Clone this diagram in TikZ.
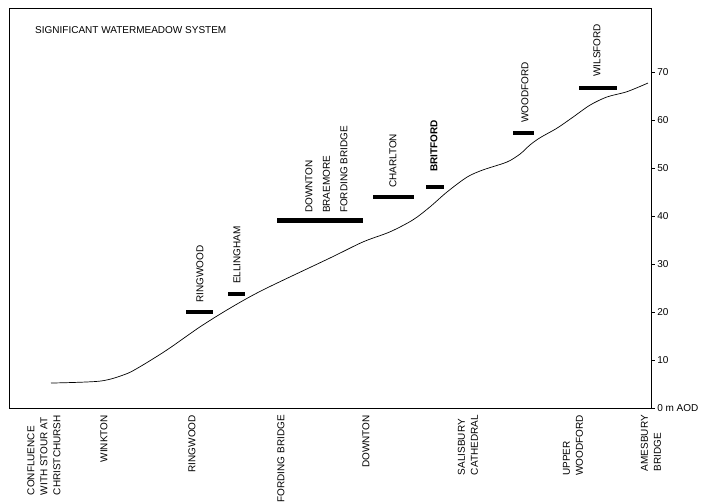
\documentclass[tikz,border=0pt]{standalone}
\usepackage{fontspec}
\setmainfont{Liberation Sans}
\newcommand{\lab}{\fontsize{10}{13}\selectfont}

\begin{document}
\begin{tikzpicture}[x=1pt, y=4.8pt,
    bar/.style={line width=4.5pt},
    site/.style={rotate=90, anchor=west, align=left, inner sep=0pt, font=\lab},
    place/.style={rotate=90, anchor=east, align=left, inner sep=0pt, font=\lab},
    tick/.style={anchor=west, inner sep=0pt, font=\lab}]
    \useasboundingbox (0,-19.583) rectangle (701,85);

    % frame, right side is the height axis
    \draw[line width=0.6pt] (651,0) -- (9,0) -- (9,83.33) -- (651,83.33) -- cycle;
    \foreach \m in {10,20,...,70}
        \draw[line width=0.6pt] (651,\m) -- (655,\m) node[tick, xshift=2pt] (t\m) {\m};
    \draw[line width=0.6pt] (651,0) -- (655,0) node[tick, xshift=2pt] (t0) {0 m AOD};

    \node[tick] (title) at (35,78.75) {SIGNIFICANT WATERMEADOW SYSTEM};

    % river profile
    \draw[line width=0.7pt] plot[smooth] coordinates {(51,5.2) (100,5.6) (125,7.0) (140,8.6)
        (167,12.1) (200,16.9) (230,20.8) (263,24.6) (330,31.25) (363,34.6) (390,36.7)
        (413,39.2) (430,41.9) (447,45.0) (467,48.1) (483,49.6) (507,51.25) (520,52.9)
        (530,54.8) (540,56.3) (557,58.3) (573,60.6) (590,63.1) (607,64.8) (627,65.9) (648,67.7)};

    % watermeadows
    \draw[bar] (186,20) -- (213,20);
    \draw[bar] (228,23.75) -- (245,23.75);
    \draw[bar] (277,39.06) -- (363,39.06);
    \draw[bar] (373,44) -- (414,44);
    \draw[bar] (426,46.04) -- (444,46.04);
    \draw[bar] (513,57.3) -- (534,57.3);
    \draw[bar] (579,66.7) -- (617,66.7);

    \node[site] (ringwood) at (200,21.9) {RINGWOOD};
    \node[site] (ellingham) at (237,25.8) {ELLINGHAM};
    \node[site, font={\fontsize{10}{17.5}\selectfont}] (downton) at (326.5,40.6)
        {DOWNTON\\BRAEMORE\\FORDING BRIDGE};
    \node[site] (charlton) at (393,45.8) {CHARLTON};
    \node[site, font=\lab\bfseries] (britford) at (434,49.2) {BRITFORD};
    \node[site] (woodford) at (525,59.4) {WOODFORD};
    \node[site] (wilsford) at (597,69) {WILSFORD};

    % places along the river
    \node[place] (confluence) at (44,-1.46) {CONFLUENCE\\WITH STOUR AT\\CHRISTCHURSH};
    \node[place] (winkton) at (104,-1.46) {WINKTON};
    \node[place] (pringwood) at (192,-1.46) {RINGWOOD};
    \node[place] (fording) at (281,-1.46) {FORDING BRIDGE};
    \node[place] (pdownton) at (366,-1.46) {DOWNTON};
    \node[place] (salisbury) at (468,-1.46) {SALISBURY\\CATHEDRAL};
    \node[place] (upper) at (573,-1.46) {UPPER\\WOODFORD};
    \node[place] (amesbury) at (651,-1.46) {AMESBURY\\BRIDGE};
\end{tikzpicture}
\end{document}
